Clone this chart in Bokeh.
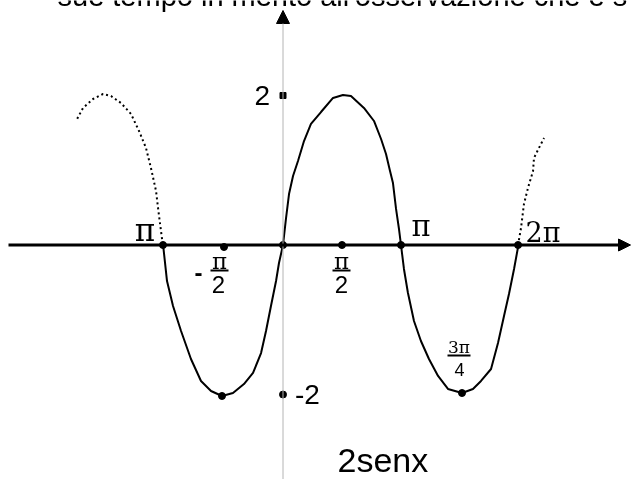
from bokeh.plotting import figure
from bokeh.models import Range1d, Arrow, NormalHead, Label
from bokeh.core.properties import value
from bokeh.embed import file_html
from bokeh.resources import INLINE

# ---------------- data (x in multiples of pi, y = value of 2senx) ----------------
curve_x = [-1.017, -0.983, -0.932, -0.864, -0.780, -0.695, -0.610, -0.517, -0.424, -0.331,
           -0.254, -0.186, -0.144, -0.102, -0.059, -0.034, 0.000, 0.025, 0.051, 0.085,
           0.127, 0.178, 0.237, 0.322, 0.424, 0.508, 0.576, 0.686, 0.771, 0.831,
           0.873, 0.907, 0.932, 0.958, 0.983, 1.000, 1.025, 1.059, 1.110, 1.169,
           1.237, 1.314, 1.398, 1.517, 1.610, 1.678, 1.763, 1.822, 1.873, 1.915,
           1.958, 1.992]
curve_y = [0.013, -0.482, -0.816, -1.151, -1.525, -1.819, -1.953, -2.020, -1.980, -1.860,
           -1.712, -1.445, -1.151, -0.816, -0.482, -0.241, 0.000, 0.348, 0.682, 0.923,
           1.124, 1.391, 1.619, 1.779, 1.967, 2.007, 1.993, 1.833, 1.659, 1.418,
           1.217, 0.990, 0.829, 0.482, 0.214, 0.000, -0.321, -0.642, -1.017, -1.284,
           -1.525, -1.752, -1.926, -1.980, -1.926, -1.819, -1.659, -1.311, -0.950, -0.656,
           -0.321, -0.027]

left_dotted_x = [-1.017, -1.025, -1.034, -1.059, -1.076, -1.119, -1.161, -1.220, -1.288,
                 -1.373, -1.458, -1.525, -1.610, -1.695, -1.754]
left_dotted_y = [0.013, 0.080, 0.187, 0.495, 0.722, 1.030, 1.298, 1.525, 1.753,
                 1.900, 1.993, 2.020, 1.953, 1.833, 1.659]

right_dotted_x = [1.992, 2.017, 2.042, 2.076, 2.119, 2.127, 2.169, 2.212]
right_dotted_y = [0.000, 0.227, 0.548, 0.763, 0.990, 1.164, 1.298, 1.431]

zero_x = [-1.017, 0.0, 1.0, 1.992]
zero_y = [0.0, 0.0, 0.0, 0.0]
half_x = [-0.5, 0.5]
half_y = [-0.027, 0.0]
min_x = [-0.517, 1.517]
min_y = [-2.020, -1.980]

ytick_vals = [2, -2]
ytick_labels = ["2", "-2"]

pi_label = "π"
two_pi_label = "2π"
frac_top = ["π", "π"]
frac_bottom = ["2", "2"]
frac_pos = [-0.5, 0.5]
tpf_top, tpf_bottom, tpf_pos = "3π", "4", 1.5

caption = "sue tempo in merito all'osservazione che è s"
func_label = "2senx"

# ---------------- layout ----------------
W, H = 631, 479
PX0, PY0 = 282.5, 244.5      # pixel position of origin
SX, SY = 118.0, 74.75        # pixels per pi, pixels per unit

p = figure(width=W, height=H, output_backend="svg", toolbar_location=None,
           x_axis_type=None, y_axis_type=None, min_border=0,
           x_range=Range1d(-PX0 / SX, (W - PX0) / SX),
           y_range=Range1d((PY0 - H) / SY, PY0 / SY),
           background_fill_color="white", border_fill_color="white")
p.outline_line_color = None
p.styles = {"position": "fixed", "top": "0px", "left": "0px"}

SANS = value("Liberation Sans")
SERIF = value("DejaVu Serif")

# axes
p.add_layout(Arrow(x_start=0, y_start=(PY0 - H) / SY, x_end=0, y_end=(PY0 - 10) / SY,
                   line_color="#b4b4b4", line_width=1,
                   end=NormalHead(size=13, fill_color="black", line_color="black", line_width=1)))
p.add_layout(Arrow(x_start=(8 - PX0) / SX, y_start=0, x_end=(630 - PX0) / SX, y_end=0,
                   line_color="black", line_width=3,
                   end=NormalHead(size=12, fill_color="black", line_color="black", line_width=1)))

# curves
p.line(left_dotted_x, left_dotted_y, line_color="black", line_width=2, line_dash="2 3")
p.line(right_dotted_x, right_dotted_y, line_color="black", line_width=2, line_dash="2 3")
p.line(curve_x, curve_y, line_color="black", line_width=2)

# points
p.scatter(zero_x, zero_y, size=7, color="black")
p.scatter(half_x, half_y, size=7, color="black")
p.scatter(min_x, min_y, size=7, color="black")
p.scatter([0], [ytick_vals[0]], size=6, marker="square", color="black")
p.scatter([0], [ytick_vals[1]], size=7, color="black")

# y tick labels
p.text([0], [ytick_vals[0]], text=[ytick_labels[0]], x_offset=-13, text_align="right",
       text_baseline="middle", text_font=SANS, text_font_size="28px", text_color="black")
p.text([0], [ytick_vals[1]], text=[ytick_labels[1]], x_offset=12, text_align="left",
       text_baseline="middle", text_font=SANS, text_font_size="28px", text_color="black")

# pi labels
p.text([zero_x[0]], [0], text=[pi_label], x_offset=-18, y_offset=-15, text_align="center",
       text_baseline="middle", text_font=SERIF, text_font_size="31px", text_color="black")
p.text([zero_x[2]], [0], text=[pi_label], x_offset=20, y_offset=-19, text_align="center",
       text_baseline="middle", text_font=SERIF, text_font_size="29px", text_color="black")
p.text([2], [0], text=[two_pi_label], x_offset=24, y_offset=-13, text_align="center",
       text_baseline="middle", text_font=SERIF, text_font_size="27px", text_color="black")

# fractions pi/2
fx_off = [-4.5, -0.5]
p.text(frac_pos, [0, 0], text=frac_top, x_offset=fx_off, y_offset=16, text_align="center",
       text_baseline="middle", text_font=SERIF, text_font_size="23px", text_color="black")
p.text(frac_pos, [0, 0], text=frac_bottom, x_offset=[-5.5, -0.5], y_offset=39, text_align="center",
       text_baseline="middle", text_font=SANS, text_font_size="24px", text_color="black")
p.segment([f + o / SX - 9 / SX for f, o in zip(frac_pos, fx_off)], [-25.5 / SY] * 2,
          [f + o / SX + 9 / SX for f, o in zip(frac_pos, fx_off)], [-25.5 / SY] * 2,
          line_color="black", line_width=2)
p.text([frac_pos[0]], [0], text=["-"], x_offset=-25.5, y_offset=27, text_align="center",
       text_baseline="middle", text_font=SANS, text_font_size="24px", text_font_style="bold",
       text_color="black")

# 3pi/4
p.text([tpf_pos], [0], text=[tpf_top], x_offset=-1, y_offset=101.5, text_align="center",
       text_baseline="middle", text_font=SERIF, text_font_size="17px", text_color="black")
p.segment([tpf_pos - 12.5 / SX], [-110.5 / SY], [tpf_pos + 10.5 / SX], [-110.5 / SY],
          line_color="black", line_width=2)
p.text([tpf_pos], [0], text=[tpf_bottom], x_offset=-0.5, y_offset=124, text_align="center",
       text_baseline="middle", text_font=SANS, text_font_size="18px", text_color="black")

# captions
p.add_layout(Label(x=57, y=H + 5, x_units="screen", y_units="screen", text=caption,
                   text_font="Liberation Sans", text_font_size="29px",
                   text_baseline="alphabetic", text_color="black"))
p.add_layout(Label(x=337, y=H - 459, x_units="screen", y_units="screen", text=func_label,
                   text_font="Liberation Sans", text_font_size="34px",
                   text_baseline="alphabetic", text_color="black"))

open("out.html", "w").write(file_html(p, INLINE))
